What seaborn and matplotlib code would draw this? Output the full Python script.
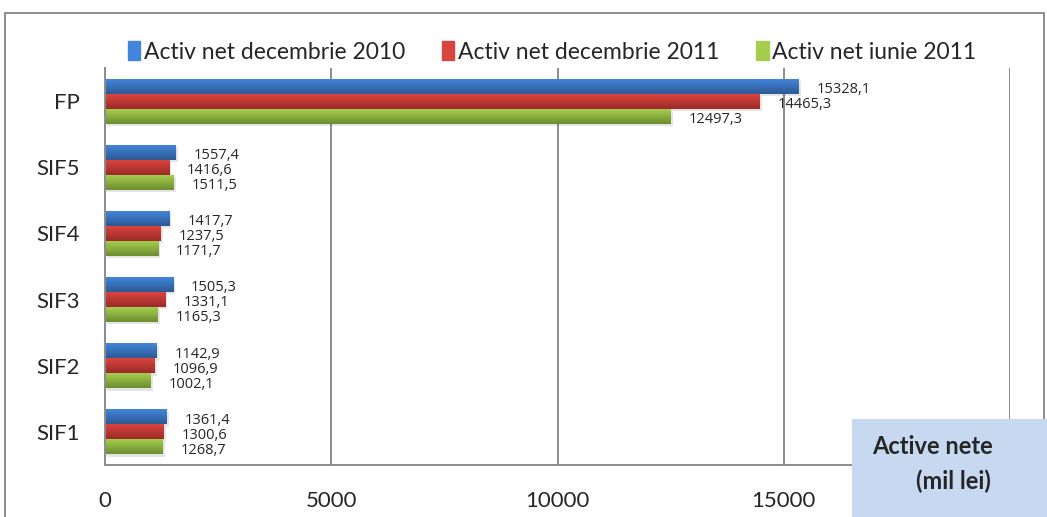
import matplotlib
matplotlib.use('Agg')
import matplotlib.pyplot as plt
import matplotlib.patches as mpatches
from matplotlib.colors import LinearSegmentedColormap
import numpy as np
import pandas as pd
import seaborn as sns

# Data
categories = ['FP', 'SIF5', 'SIF4', 'SIF3', 'SIF2', 'SIF1']
series = ['Activ net decembrie 2010', 'Activ net decembrie 2011', 'Activ net iunie 2011']
dec_2010 = [15328.1, 1557.4, 1417.7, 1505.3, 1142.9, 1361.4]
dec_2011 = [14465.3, 1416.6, 1237.5, 1331.1, 1096.9, 1300.6]
iun_2011 = [12497.3, 1511.5, 1171.7, 1165.3, 1002.1, 1268.7]

# gradient colours (top, bottom) per series
grad = {
    series[0]: ('#4285DA', '#2D5A94'),
    series[1]: ('#DA443E', '#9A2B28'),
    series[2]: ('#A6CE4E', '#6C8D30'),
}

df = pd.DataFrame({
    'cat': categories * 3,
    'serie': [series[0]] * 6 + [series[1]] * 6 + [series[2]] * 6,
    'value': dec_2010 + dec_2011 + iun_2011,
})

sns.set_style('white')
plt.rcParams['font.family'] = ['Lato', 'DejaVu Sans']

fig = plt.figure(figsize=(10.47, 5.17), dpi=100)
fig.set_facecolor('white')
ax = fig.add_axes([105 / 1047, 1 - 465 / 517, 905 / 1047, 397 / 517])

sns.barplot(data=df, y='cat', x='value', hue='serie', orient='h',
            order=categories, hue_order=series,
            palette=[grad[s][0] for s in series],
            width=0.68, ax=ax, legend=True, linewidth=0, edgecolor='none')

ax.set_xlim(0, 20000)
ax.set_ylim(5.5, -0.5)

# gradient fill on each bar
for i, s in enumerate(series):
    cmap = LinearSegmentedColormap.from_list(s, [grad[s][0], grad[s][1]])
    for p in ax.containers[i]:
        x0, y0 = p.get_x(), p.get_y()
        w, h = p.get_width(), p.get_height()
        # soft shadow
        sh = mpatches.Rectangle((x0 + 50, y0 + 0.035), w, h, color='#000000',
                                alpha=0.10, zorder=1.5, lw=0)
        ax.add_patch(sh)
        img = ax.imshow(np.linspace(0, 1, 50).reshape(-1, 1), cmap=cmap,
                        extent=[x0, x0 + w, y0 + h, y0], aspect='auto',
                        zorder=2, interpolation='bicubic')
        img.set_clip_path(p)
        p.set_zorder(2)

ax.set_xlim(0, 20000)
ax.set_ylim(5.5, -0.5)

# value labels
for i, vals in enumerate([dec_2010, dec_2011, iun_2011]):
    for j, v in enumerate(vals):
        y = j + (i - 1) * 0.68 / 3 + 0.05
        ax.annotate(f'{v:.1f}'.replace('.', ','), xy=(v, y), xytext=(13, 0),
                    textcoords='offset points', fontsize=10.5, va='center',
                    ha='left', family=['Open Sans', 'DejaVu Sans'], zorder=5)

ax.set_xticks([0, 5000, 10000, 15000, 20000])
ax.set_xticklabels(['0', '5000', '10000', '15000', ''])
ax.xaxis.grid(True, color='#8C8C8C', linewidth=1.4)
ax.set_axisbelow(True)
ax.set_xlabel('')
ax.set_ylabel('')

ax.set_yticks(range(6))
ax.set_yticklabels(categories)
ax.set_yticks(np.arange(-0.5, 6, 1), minor=True)
ax.tick_params(axis='y', which='major', length=0, pad=18, labelsize=16)
ax.tick_params(axis='y', which='minor', length=6, color='#8C8C8C', width=1.4, direction='out')
ax.tick_params(axis='x', length=6, color='#8C8C8C', width=1.4, labelsize=16, pad=13)
for side in ['top', 'right']:
    ax.spines[side].set_visible(False)
for side in ['left', 'bottom']:
    ax.spines[side].set_color('#8C8C8C')
    ax.spines[side].set_linewidth(1.4)

# legend on top
handles = [mpatches.Rectangle((0, 0), 1, 1, color=grad[s][0]) for s in series]
if ax.get_legend() is not None:
    ax.get_legend().remove()
fig.legend(handles, series, loc='center', bbox_to_anchor=(552 / 1047, 1 - 52 / 517),
           ncol=3, frameon=False, fontsize=16.5, handlelength=0.55, handleheight=0.9,
           handletextpad=0.15, columnspacing=1.6)

# outer chart border
fig.add_artist(mpatches.Rectangle((5 / 1047, -0.02), 1039 / 1047, 1 - 13 / 517 + 0.02,
                                  transform=fig.transFigure, fill=False,
                                  edgecolor='#8C8C8C', linewidth=1.4))

# text box
fig.add_artist(mpatches.Rectangle((852 / 1047, 0), 195 / 1047, 98 / 517,
                                  transform=fig.transFigure, facecolor='#C6D9F1',
                                  edgecolor='none', zorder=10))
fig.text(872 / 1047, 1 - 447 / 517, 'Active nete', fontsize=17, fontweight='bold',
         va='center', ha='left', zorder=11)
fig.text(916 / 1047, 1 - 481 / 517, '(mil lei)', fontsize=17, fontweight='bold',
         va='center', ha='left', zorder=11)

fig.savefig('out.png', dpi=100)
